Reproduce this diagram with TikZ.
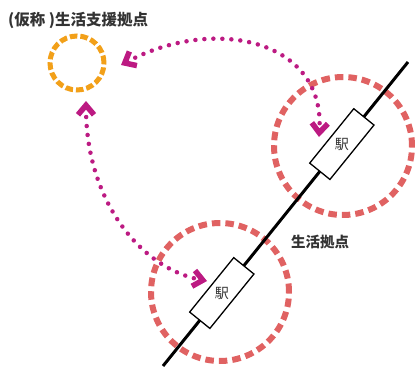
\documentclass[tikz,border=0pt]{standalone}
\usepackage{fontspec}
\newfontfamily\jp{Noto Sans CJK JP}
\usetikzlibrary{arrows.meta,calc}
\definecolor{orng}{HTML}{F2A019}
\definecolor{rosered}{HTML}{E06262}
\definecolor{mag}{HTML}{BC1A82}
\definecolor{txt}{HTML}{333333}
\begin{document}
\begin{tikzpicture}[x=1pt,y=-1pt,
 zone/.style={circle, draw=rosered, line width=6pt, dash pattern=on 8.5pt off 5pt, minimum size=138pt, inner sep=0pt},
 hub/.style={circle, draw=orng, line width=5pt, dash pattern=on 7.5pt off 3pt, minimum size=54pt, inner sep=0pt},
 stationbox/.style={draw=black, fill=white, line width=1.3pt, minimum width=70pt, minimum height=26pt, inner sep=0pt},
 chev/.tip={Straight Barb[length=9.5pt,width=16pt,line width=5.5pt,line cap=butt,line join=miter]},
 link/.style={mag, line width=4.5pt, line cap=round, dash pattern=on 0pt off 9pt, chev-chev},
 lbl/.style={text=txt, font=\jp\bfseries\fontsize{15.5}{17}\selectfont, inner sep=0pt, anchor=west},
 ekitext/.style={text=txt, font=\jp\fontsize{14}{15}\selectfont, inner sep=0pt}]
\useasboundingbox (0,0) rectangle (415,372);
% zones
\node[zone] (z1) at (343,146) {};
\node[zone] (z2) at (220,292) {};
% rail line
\coordinate (ra) at (163,366);
\coordinate (rb) at (408,62);
\draw[line width=3pt, black] (ra) -- (rb);
% stations
\node[stationbox, rotate=51] (s1) at ($(ra)!0.73!(rb)$) {};
\node[ekitext] (e1) at (s1) {駅};
\node[stationbox, rotate=51] (s2) at ($(ra)!0.24!(rb)$) {};
\node[ekitext] (e2) at (s2) {駅};
% hub
\node[hub] (hub) at (77,63) {};
% labels
\node[lbl] (title) at (8,20) {(仮称 )生活支援拠点};
\node[lbl, font=\jp\bfseries\fontsize{14.5}{16}\selectfont] (zlabel) at (291,242) {生活拠点};
% links
\coordinate (h1) at (121,65);
\coordinate (t1) at (319,137);
\coordinate (h2) at (86,101);
\coordinate (t2) at (207,281);
\draw[link] (h1) .. controls (215,15) and (325,40) .. (t1);
\draw[link] (h2) .. controls (86,200) and (140,268) .. (t2);
\end{tikzpicture}
\end{document}
